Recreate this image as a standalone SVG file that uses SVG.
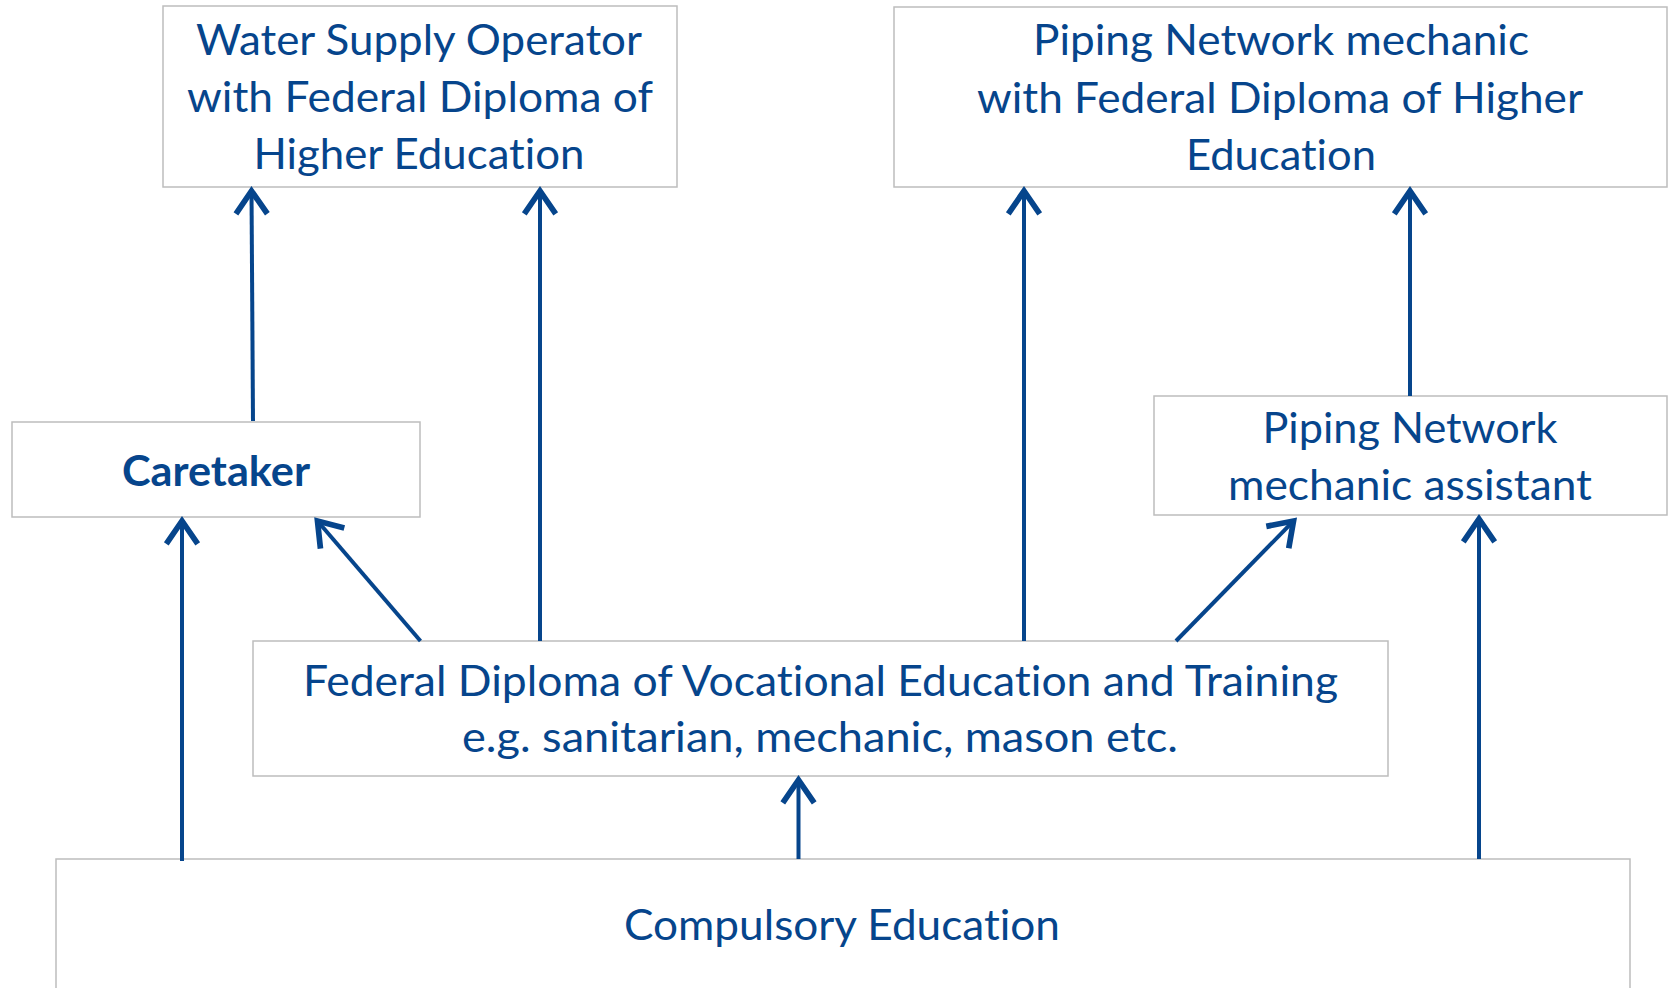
<svg xmlns="http://www.w3.org/2000/svg" width="1669" height="988" viewBox="0 0 1669 988">
<style>
.box{fill:#ffffff;stroke:#BDBDBD;stroke-width:1.5}
.t{font-family:Lato,"Open Sans","Liberation Sans",sans-serif;font-size:42px;fill:#06458C;text-anchor:middle;font-variant-ligatures:none;font-feature-settings:"liga" 0,"clig" 0}
.b{font-weight:bold}
.c{fill:none;stroke:#06458C;stroke-width:4}
</style>
<defs>
<marker id="arr" markerUnits="userSpaceOnUse" markerWidth="40" markerHeight="40" viewBox="-20 -14 24 28" refX="0" refY="0" orient="auto" overflow="visible">
<path d="M-16,-11 L0,0 L-16,11" fill="none" stroke="#06458C" stroke-width="4" stroke-linejoin="miter"/>
</marker>
</defs>
<rect width="1669" height="988" fill="#ffffff"/>
<g id="n-water">
<rect class="box" x="163" y="6" width="514" height="181"/>
<text class="t" x="419" y="55" textLength="446" lengthAdjust="spacingAndGlyphs">Water Supply Operator</text>
<text class="t" x="420" y="112" textLength="466" lengthAdjust="spacingAndGlyphs">with Federal Diploma of</text>
<text class="t" x="419" y="169" textLength="331" lengthAdjust="spacingAndGlyphs">Higher Education</text>
</g>
<g id="n-piping-he">
<rect class="box" x="894" y="7" width="773" height="180"/>
<text class="t" x="1281" y="55" textLength="496" lengthAdjust="spacingAndGlyphs">Piping Network mechanic</text>
<text class="t" x="1280" y="113" textLength="606" lengthAdjust="spacingAndGlyphs">with Federal Diploma of Higher</text>
<text class="t" x="1281" y="170" textLength="190" lengthAdjust="spacingAndGlyphs">Education</text>
</g>
<g id="n-caretaker">
<rect class="box" x="12" y="422" width="408" height="95"/>
<text class="t b" x="216" y="486" textLength="188" lengthAdjust="spacingAndGlyphs">Caretaker</text>
</g>
<g id="n-assistant">
<rect class="box" x="1154" y="396" width="513" height="119"/>
<text class="t" x="1410" y="443" textLength="295" lengthAdjust="spacingAndGlyphs">Piping Network</text>
<text class="t" x="1410" y="500" textLength="364" lengthAdjust="spacingAndGlyphs">mechanic assistant</text>
</g>
<g id="n-federal">
<rect class="box" x="253" y="641" width="1135" height="135"/>
<text class="t" x="820.5" y="696" textLength="1035" lengthAdjust="spacingAndGlyphs">Federal Diploma of Vocational Education and Training</text>
<text class="t" x="820" y="752" textLength="716" lengthAdjust="spacingAndGlyphs">e.g. sanitarian, mechanic, mason etc.</text>
</g>
<g id="n-compulsory">
<rect class="box" x="56" y="859" width="1574" height="150"/>
<text class="t" x="842" y="940" textLength="436" lengthAdjust="spacingAndGlyphs">Compulsory Education</text>
</g>
<g id="connectors">
<line class="c" x1="253" y1="421" x2="251.5" y2="191" marker-end="url(#arr)"/>
<line class="c" x1="540" y1="641" x2="540" y2="191" marker-end="url(#arr)"/>
<line class="c" x1="1024" y1="641" x2="1024" y2="191" marker-end="url(#arr)"/>
<line class="c" x1="1410" y1="396" x2="1410" y2="191" marker-end="url(#arr)"/>
<line class="c" x1="182" y1="861" x2="182" y2="521" marker-end="url(#arr)"/>
<line class="c" x1="420.5" y1="641" x2="317.5" y2="521" marker-end="url(#arr)"/>
<line class="c" x1="1176" y1="641" x2="1293.5" y2="521" marker-end="url(#arr)"/>
<line class="c" x1="798.5" y1="859" x2="798.5" y2="780" marker-end="url(#arr)"/>
<line class="c" x1="1479" y1="859" x2="1479" y2="519" marker-end="url(#arr)"/>
</g>
</svg>
